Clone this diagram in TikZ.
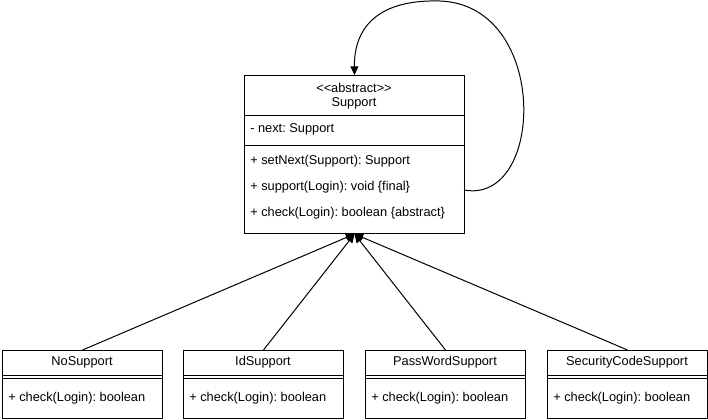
\documentclass[tikz,border=0pt]{standalone}
\usepackage{fontspec}
\setmainfont{Liberation Sans}
\usetikzlibrary{arrows.meta,calc}
\frenchspacing
\begin{document}
\begin{tikzpicture}[x=0.75pt,y=-0.75pt,
  box/.style={draw=black,line width=0.75pt,fill=white,anchor=north west,inner sep=0pt},
  sep/.style={draw=black,line width=0.75pt},
  txt/.style={font=\fontsize{9.6pt}{11pt}\selectfont,inner sep=0pt},
  cname/.style={txt},
  inh/.style={draw=black,line width=0.75pt,-{Triangle[length=6.5pt,width=6pt]}},
  every node/.append style={text=black}]
\useasboundingbox (0,0) rectangle (708,419);
\fill[white] (0,0) rectangle (708,419);

% abstract class Support
\node[box,minimum width=165pt,minimum height=118.5pt] (sup) at (244,75) {};
\draw[sep] (244,115) -- (464,115);
\draw[sep] (244,145) -- (464,145);
\node[txt] (st) at (354,88) {<\kern0pt<abstract>\kern0pt>};
\node[cname] (sn) at (354,103) {Support};
\node[txt,anchor=west] (sa) at (250,129.5) {- next: Support};
\node[txt,anchor=west] (m1) at (250,161.5) {+ setNext(Support): Support};
\node[txt,anchor=west] (m2) at (250,187.5) {+ support(Login): void \{final\}};
\node[txt,anchor=west] (m3) at (250,213.5) {+ check(Login): boolean \{abstract\}};

% subclasses
\foreach \nm/\x/\lab in {no/2/NoSupport,id/183/IdSupport,pw/365/PassWordSupport,sc/547/SecurityCodeSupport}{
  \node[box,minimum width=120pt,minimum height=51pt] (\nm) at (\x,350) {};
  \draw[sep] (\x,375) -- ++(160,0);
  \draw[sep] (\x,378) -- ++(160,0);
  \node[cname] (\nm-n) at ($(\x,362.5)+(80,0)$) {\lab};
  \node[txt,anchor=west] (\nm-m) at ($(\x,398)+(6,0)$) {+ check(Login): boolean};
}

% inheritance arrows
\foreach \nm in {no,id,pw,sc}{
  \draw[inh] (\nm.north) -- (sup.south);
}

% self association
\coordinate (ls) at (464,190);
\draw[inh] (ls) .. controls (545,205) and (550,5) .. (440,1) .. controls (370,-1) and (354,35) .. (sup.north);
\end{tikzpicture}
\end{document}
